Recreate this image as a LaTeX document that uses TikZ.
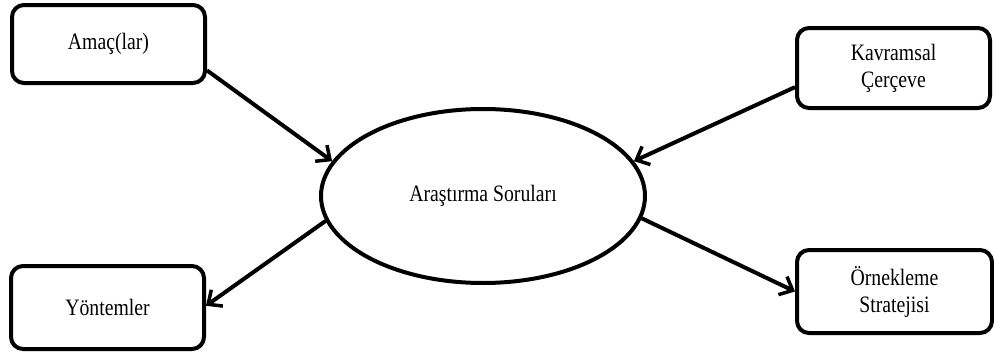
\documentclass[tikz,border=0pt]{standalone}
\usepackage{fontspec}
\setmainfont[FakeStretch=0.84]{Liberation Serif}
\usetikzlibrary{arrows.meta,shapes.geometric}
\begin{document}
\begin{tikzpicture}[x=1pt,y=-1pt,
  box/.style={draw, line width=4pt, rounded corners=12pt, fill=white, align=center,
    font=\fontsize{23.5}{27}\selectfont, inner sep=0pt},
  oval/.style={ellipse, draw, line width=4pt, fill=white, inner sep=0pt,
    font=\fontsize{23.5}{27}\selectfont},
  conn/.style={line width=4pt, -{Straight Barb[length=11pt,width=20pt,line width=3.5pt]}}]
\useasboundingbox (0,0) rectangle (994,356);
\node[box, minimum width=193pt, minimum height=78pt] (a) at (108.5,44) {\raisebox{-4pt}{Amaç(lar)}};
\node[box, minimum width=193pt, minimum height=80pt] (k) at (893.5,68) {Kavramsal\\Çerçeve};
\node[box, minimum width=193pt, minimum height=83pt] (y) at (107.5,307.5) {Yöntemler};
\node[box, minimum width=195pt, minimum height=83pt] (o) at (894.5,291.5) {Örnekleme\\Stratejisi};
\node[oval, minimum width=324pt, minimum height=174pt] (e) at (483,196) {Araştırma Soruları};
\draw[conn] (a.-15) -- (e.167);
\draw[conn] (k.-169) -- (e.13);
\draw[conn] (e.-171) -- (y.1);
\draw[conn] (e.-8) -- (o.180);
\end{tikzpicture}
\end{document}
